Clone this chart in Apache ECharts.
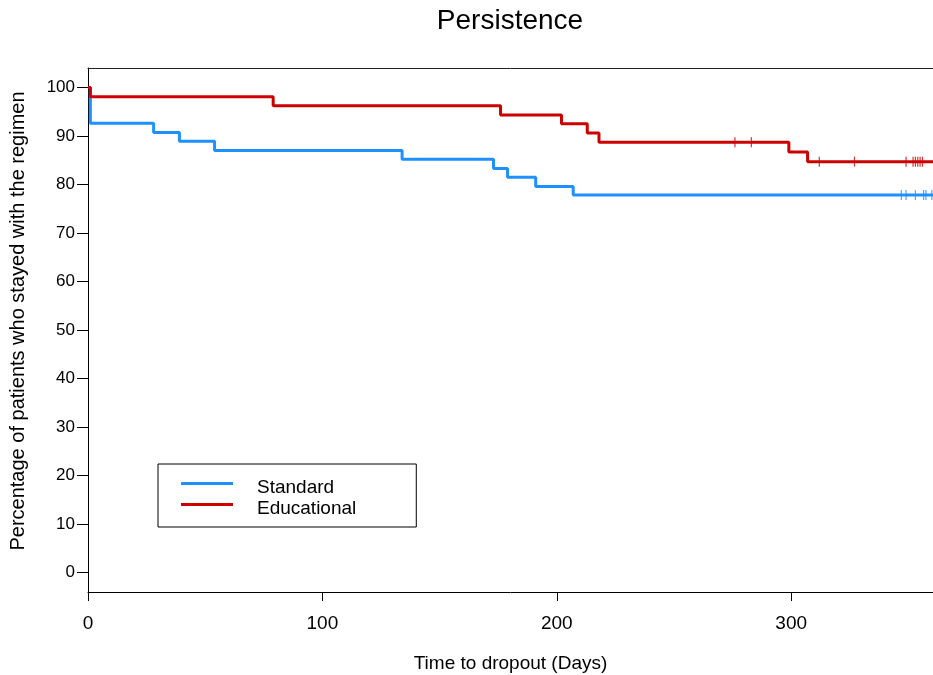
<!DOCTYPE html>
<html>
<head>
<meta charset="utf-8">
<title>Persistence</title>
<script src="https://cdn.jsdelivr.net/npm/echarts@6/dist/echarts.min.js"></script>
<style>
html,body{margin:0;padding:0;background:#fff;}
#chart{width:933px;height:675px;}
</style>
</head>
<body>
<div id="chart"></div>
<script>
// Kaplan-Meier steps (days, % still on the regimen)
var standardTimes = [0, 1, 28, 39, 54, 134, 173, 179, 191, 207, 361];
var standardSurv  = [100, 92.6, 90.7, 88.9, 87.0, 85.2, 83.3, 81.5, 79.6, 77.8, 77.8];
var standardCensor = [347, 349, 353, 356.5, 357.5, 360];

var educationalTimes = [0, 1, 79, 176, 202, 213, 218, 299, 307, 361];
var educationalSurv  = [100, 98.1, 96.2, 94.3, 92.5, 90.6, 88.7, 86.7, 84.7, 84.7];
var educationalCensor = [276, 283, 312, 327, 349, 352, 353, 354, 355, 356];

var xTicks = [0, 100, 200, 300];
var yTicks = [0, 10, 20, 30, 40, 50, 60, 70, 80, 90, 100];

var FONT = '"Liberation Sans", Arial, sans-serif';
var BLUE = '#1E90FF', RED = '#CD0000';
var X_MAX = 360.5;

// 把时间和生存率拼成点
function steps(times, surv) {
	var out = [];
	for (var i = 0; i < times.length; ++i) out.push([times[i], surv[i]]);
	return out;
}
// 删失点放在当时的曲线高度上
function censorPoints(times, surv, cens) {
	var out = [];
	for (var k = 0; k < cens.length; ++k) {
		var v = surv[0];
		for (var i = 0; i < times.length; ++i) {
			if (times[i] <= cens[k]) v = surv[i];
		}
		out.push([cens[k], v]);
	}
	return out;
}

// 图例线条放在图标上沿, 文字比线略低一些
var legendIcon = 'path://M0,0H52V3H0Z M0,10.99H52V11H0Z';

var chart = echarts.init(document.getElementById('chart'));
var option = {
	animation: false,
	backgroundColor: '#fff',
	textStyle: {fontFamily: FONT},
	title: {
		text: 'Persistence',
		left: 510, top: 7, padding: 0,
		textAlign: 'center',
		textStyle: {fontFamily: FONT, fontSize: 28, fontWeight: 'normal', color: '#000'}
	},
	grid: {
		left: 88, right: 0, top: 68, bottom: 83,
		show: false,
		containLabel: false,
		outerBoundsMode: 'none'
	},
	legend: {
		orient: 'vertical',
		left: 158, top: 464,
		padding: [13, 60, 8, 23],
		itemGap: 0,
		itemWidth: 52, itemHeight: 11,
		borderColor: '#000', borderWidth: 1,
		icon: legendIcon,
		data: ['Standard', 'Educational'],
		textStyle: {fontFamily: FONT, fontSize: 19, color: '#000', lineHeight: 21, padding: [0, 0, 0, 19]}
	},
	xAxis: [{
		type: 'value',
		min: 0, max: X_MAX,
		name: 'Time to dropout (Days)',
		nameLocation: 'middle',
		nameGap: 62,
		nameTextStyle: {fontFamily: FONT, fontSize: 19, color: '#000'},
		axisLine: {show: true, onZero: false, lineStyle: {color: '#000', width: 1}},
		axisTick: {show: true, length: 9, customValues: xTicks, lineStyle: {color: '#000'}},
		axisLabel: {customValues: xTicks, margin: 22, fontSize: 19, color: '#000', fontFamily: FONT},
		splitLine: {show: false}
	}, {
		// 上边框
		type: 'value', position: 'top',
		min: 0, max: X_MAX,
		axisLine: {show: true, onZero: false, lineStyle: {color: '#222', width: 1}},
		axisTick: {show: false},
		axisLabel: {show: false},
		splitLine: {show: false}
	}],
	yAxis: {
		type: 'value',
		min: -4, max: 104,
		name: 'Percentage of patients who stayed with the regimen',
		nameLocation: 'middle',
		nameRotate: 90,
		nameGap: 60,
		nameTextStyle: {fontFamily: FONT, fontSize: 20, color: '#000', padding: [0, 0, 0, 18]},
		axisLine: {show: true, onZero: false, lineStyle: {color: '#000', width: 1}},
		axisTick: {show: true, length: 11, customValues: yTicks, lineStyle: {color: '#000'}},
		axisLabel: {customValues: yTicks, margin: 13, fontSize: 17, color: '#000', fontFamily: FONT},
		splitLine: {show: false}
	},
	series: [
		{
			name: 'Standard', type: 'line', step: 'end', showSymbol: false,
			color: BLUE,
			lineStyle: {color: BLUE, width: 3},
			data: steps(standardTimes, standardSurv)
		},
		{
			name: 'Educational', type: 'line', step: 'end', showSymbol: false,
			color: RED,
			lineStyle: {color: RED, width: 3},
			data: steps(educationalTimes, educationalSurv)
		},
		{
			name: 'Standard censored', type: 'scatter',
			symbol: 'rect', symbolSize: [1.2, 10],
			itemStyle: {color: BLUE}, z: 3,
			data: censorPoints(standardTimes, standardSurv, standardCensor)
		},
		{
			name: 'Educational censored', type: 'scatter',
			symbol: 'rect', symbolSize: [1.2, 10],
			itemStyle: {color: RED}, z: 3,
			data: censorPoints(educationalTimes, educationalSurv, educationalCensor)
		}
	]
};
chart.setOption(option);
</script>
</body>
</html>
